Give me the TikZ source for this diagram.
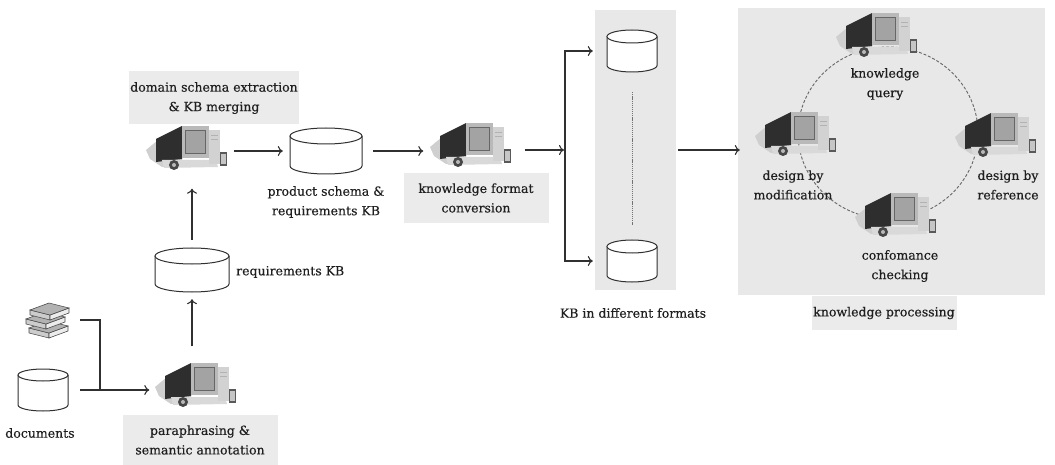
\documentclass[tikz,border=0pt]{standalone}
\usepackage{fontspec}
\setmainfont{DejaVu Serif}
\usetikzlibrary{arrows.meta}

\definecolor{panel}{HTML}{E8E8E8}
\definecolor{lbl}{HTML}{EBEBEB}
\definecolor{ink}{HTML}{303030}

\tikzset{
  arr/.style={draw=ink, line width=1.1pt, -{To[length=5pt,width=10pt]}},
  link/.style={draw=ink, line width=1.1pt},
  cylline/.style={draw=ink, line width=1pt, fill=white},
  txt/.style={font=\fontsize{12.5}{19.5}\selectfont\addfontfeature{FakeBold=0.35}, align=center, text=black!88, inner sep=0},
  lblbox/.style={fill=lbl, draw=none},
  slot/.style={minimum width=85pt, minimum height=47pt, inner sep=0},
  ring/.style={draw=black!60, line width=0.9pt, dash pattern=on 3pt off 1.8pt},
  dots/.style={draw=black!55, line width=1pt, dash pattern=on 1.2pt off 0.9pt},
  % desktop computer icon, about 85 x 47
  computer/.pic={
    \fill[gray!38] (-40,-1) -- (-22,-16) -- (-4,-22) -- (-4,14) -- (-24,16) -- (-36,8) -- cycle;
    \fill[black!82] (-30,-12) -- (-4,-25) -- (-4,8) -- (-30,11) -- cycle;
    \fill[gray!30] (-24,9) -- (30,9) -- (32,16) -- (-22,17) -- cycle;
    \fill[gray!55] (-4,-25) rectangle (23,7);
    \draw[black!60, fill=gray!72] (-1,-21) rectangle (19,2);
    \fill[gray!35] (23,-21) rectangle (34,13);
    \draw[gray!60] (25,-16) -- (32,-16) (25,-12) -- (32,-12);
    \fill[black!72] (-12,14) circle (5);
    \fill[gray!55] (-12,14) circle (2);
    \fill[black!65] (34,1) rectangle (41,15);
    \fill[gray!45] (35,3) rectangle (40,13);
  },
  % stack of books
  books/.pic={
    \foreach \y/\dx in {8/1,-1/-2,-10/2}{
      \draw[black!70, line width=0.6pt, fill=gray!40]
        (-19+\dx,\y+5) -- (1+\dx,\y+10) -- (1+\dx,\y+5) -- (-19+\dx,\y) -- cycle;
      \draw[black!70, line width=0.6pt, fill=gray!15]
        (1+\dx,\y+10) -- (20+\dx,\y+3) -- (20+\dx,\y-2) -- (1+\dx,\y+5) -- cycle;
      \draw[black!70, line width=0.6pt, fill=gray!60]
        (-19+\dx,\y) -- (1+\dx,\y+5) -- (20+\dx,\y-2) -- (0+\dx,\y-7) -- cycle;
    }
  }
}

% database drum: name, x, y, half width, half height, end radius
\newcommand\dbdrum[6]{%
  \node[inner sep=0, minimum width=2*#4pt, minimum height=2*#5pt] (#1) at (#2,#3) {};
  \draw[cylline] ({#2-#4},{#3-#5+#6}) -- ({#2-#4},{#3+#5-#6})
    arc[start angle=180, end angle=0, x radius=#4, y radius=#6] -- ({#2+#4},{#3-#5+#6});
  \draw[cylline] (#2,{#3-#5+#6}) ellipse[x radius=#4, y radius=#6];
}

\begin{document}
\begin{tikzpicture}[x=1pt, y=-1pt]
\useasboundingbox (0,0) rectangle (1055,465);

% background panels and label boxes
\node[fill=panel, inner sep=0, minimum width=81pt, minimum height=280pt] (kbpanel) at (635.5,150) {};
\node[fill=panel, inner sep=0, minimum width=307pt, minimum height=287pt] (procpanel) at (891.5,151.5) {};
\node[txt, lblbox, minimum width=170pt, minimum height=53pt] (domainlbl) at (214,98) {domain schema extraction\\\& KB merging};
\node[txt, lblbox, minimum width=155pt, minimum height=50pt] (paralbl) at (200,440) {paraphrasing \&\\semantic annotation};
\node[txt, lblbox, minimum width=145pt, minimum height=50pt] (convlbl) at (476,198) {knowledge format\\conversion};
\node[txt, lblbox, minimum width=145pt, minimum height=34pt] (proclbl) at (884,313) {knowledge processing};

% sources
\node[slot, minimum width=40pt, minimum height=37pt] (books) at (47,320) {};
\pic at (books) {books};
\dbdrum{docs}{43}{390}{25}{21}{6}
\node[txt] (docslbl) at (40,433) {documents};

% processing chain
\node[slot] (para) at (195,388) {};
\pic at (para) {computer};
\dbdrum{reqkb}{192}{270}{37}{22}{8}
\node[txt, anchor=west] (reqkblbl) at (236,272) {requirements KB};
\node[slot] (domain) at (186,151) {};
\pic at (domain) {computer};
\dbdrum{prod}{326}{151}{36}{23}{8}
\node[txt] (prodlbl) at (326,202) {product schema \&\\requirements KB};
\node[slot] (conv) at (470,148) {};
\pic at (conv) {computer};

% knowledge bases in several formats
\dbdrum{kb1}{632}{51}{25}{21}{6.5}
\dbdrum{kb2}{632}{261}{25}{21}{6.5}
\draw[dots, shorten <=20pt, shorten >=15pt] (kb1.south) -- (kb2.north);
\node[txt] (kblbl) at (633,313) {KB in different formats};

% knowledge processing cycle
\draw[ring] (888,133) ellipse[x radius=90, y radius=86];
\node[slot] (kq) at (876,38) {};
\pic at (kq) {computer};
\node[txt] (kqlbl) at (885,84) {knowledge\\query};
\node[slot] (dm) at (795,137) {};
\pic at (dm) {computer};
\node[txt] (dmlbl) at (793,185) {design by\\modification};
\node[slot] (dr) at (995,138) {};
\pic at (dr) {computer};
\node[txt] (drlbl) at (1008,185) {design by\\reference};
\node[slot] (cc) at (895,218) {};
\pic at (cc) {computer};
\node[txt] (cclbl) at (900,266) {confomance\\checking};

% connectors
\coordinate (join) at (100,390);
\draw[link, shorten <=13pt] (books.east) -| (join);
\draw[arr, shorten <=12pt, shorten >=3pt] (docs.east) -- (docs.east -| para.west);
\draw[arr, shorten <=18pt, shorten >=7pt] (para.north -| reqkb) -- (reqkb.south);
\draw[arr, shorten <=8pt, shorten >=14pt] (reqkb.north) -- (domain.south -| reqkb);
\draw[arr, shorten <=5pt, shorten >=7pt] (domain.east) -- (prod.west);
\draw[arr, shorten <=11pt, shorten >=4pt] (prod.east) -- (prod.east -| conv.west);
\coordinate (fork) at (565,150);
\draw[arr, shorten <=12pt, shorten >=1pt] (conv.east |- fork) -- (fork);
\draw[arr, shorten >=14pt] (fork) |- (kb1.west);
\draw[arr, shorten >=14pt] (fork) |- (kb2.west);
\draw[arr, shorten <=2pt, shorten >=-2pt] (kbpanel.east) -- (kbpanel.east -| procpanel.west);
\end{tikzpicture}
\end{document}
